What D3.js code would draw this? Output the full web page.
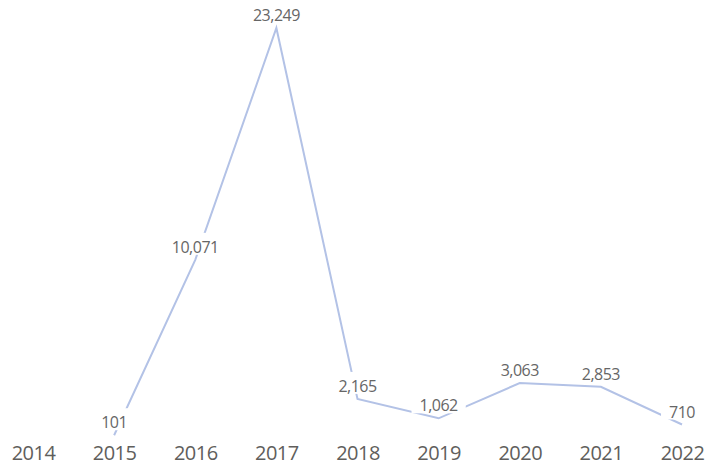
<html>
<head>
<script src="https://cdnjs.cloudflare.com/ajax/libs/d3/7.8.5/d3.min.js"></script>
</head>
<body style="margin: 0; background: #fff;">
<script>
var years = ["2014", "2015", "2016", "2017", "2018", "2019", "2020", "2021", "2022"];
var counts = [null, 101, 10071, 23249, 2165, 1062, 3063, 2853, 710];

var width = 709, height = 466;
var format = d3.format(",d");

var data = years.map((y, i) => ({year: y, value: counts[i]}));

var x = d3.scalePoint()
    .domain(years)
    .range([33, 682]);

var y = d3.scaleLinear()
    .domain([0, d3.max(counts)])
    .range([437, 28]);

var svg = d3.select("body").append("svg")
    .attr("width", width)
    .attr("height", height)
    .style("font-family", "'Segoe UI', 'Open Sans', sans-serif");

// x axis, labels only
var axis = svg.append("g")
    .attr("transform", "translate(0,446)")
    .call(d3.axisBottom(x).tickSize(0).tickPadding(0));
axis.select(".domain").remove();
axis.selectAll("text")
    .attr("dy", "0.71em")
    .attr("fill", "#605e5c")
    .style("font-size", "20px")
    .style("letter-spacing", "-0.5px")
    .style("font-family", "'Segoe UI', 'Open Sans', sans-serif");

var line = d3.line()
    .defined(d => d.value != null)
    .x(d => x(d.year))
    .y(d => y(d.value));

svg.append("path")
    .datum(data)
    .attr("fill", "none")
    .attr("stroke", "#b3c2e6")
    .attr("stroke-width", 2)
    .attr("d", line);

// data labels with a white box that hides the line behind them
var labels = svg.append("g")
    .selectAll("g")
    .data(data.filter(d => d.value != null))
    .join("g")
    .attr("transform", d => `translate(${x(d.year)},${y(d.value) - 7})`);

var bg = labels.append("rect").attr("fill", "#fff");

var txt = labels.append("text")
    .attr("text-anchor", "middle")
    .attr("fill", "#666")
    .style("font-size", "16px")
    .style("letter-spacing", "-0.5px")
    .text(d => format(d.value));

txt.each(function(d) {
  var w = this.getComputedTextLength();
  d3.select(this.previousSibling)
    .attr("x", -w / 2 - 8)
    .attr("y", -20)
    .attr("width", w + 16)
    .attr("height", 22);
});
</script>
</body>
</html>
